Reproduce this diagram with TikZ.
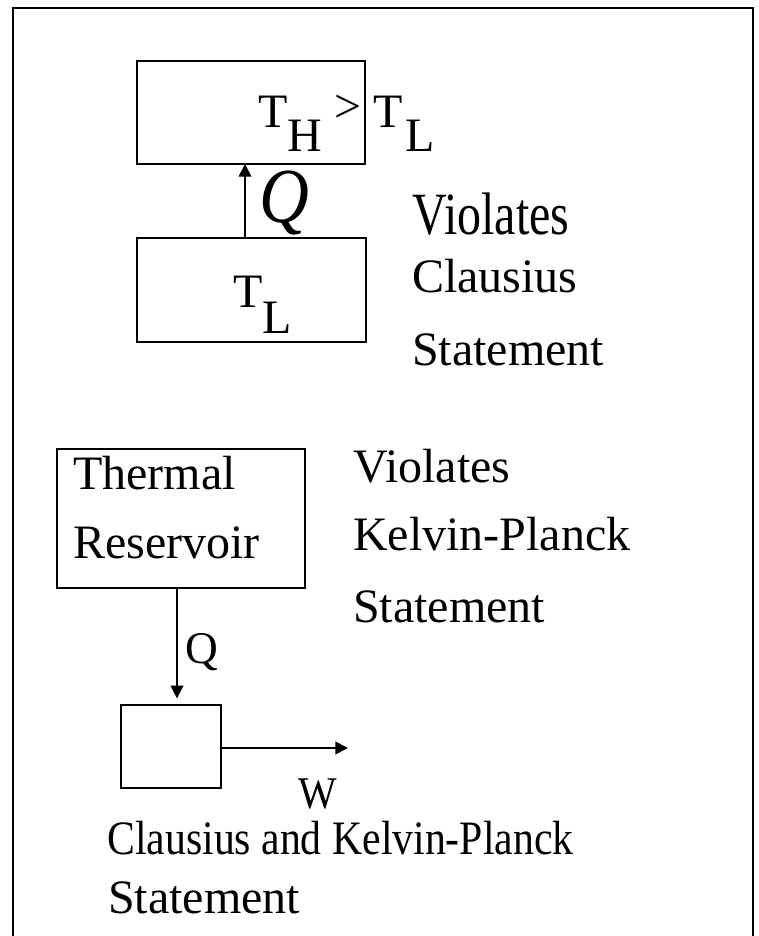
\documentclass[tikz,border=0pt]{standalone}
\usepackage{fontspec}
\setmainfont{Liberation Serif}
\usetikzlibrary{arrows.meta}
\begin{document}
\begin{tikzpicture}[x=0.75pt,y=-0.75pt,
  txt/.style={font=\fontsize{36}{40}\selectfont, inner sep=0pt, anchor=base west},
  lbl/.style={font=\fontsize{34}{38}\selectfont, inner sep=0pt, anchor=base west},
  box/.style={draw, line width=1.5pt, inner sep=0pt, outer sep=0pt},
  arr/.style={line width=1.2pt, -{Triangle[length=9.5pt,width=9.5pt]}},
  frame/.style={line width=2pt}]
\useasboundingbox (0,0) rectangle (758,936);
% outer frame
\coordinate (fbl) at (13,940);
\coordinate (ftl) at (13,8);
\coordinate (ftr) at (753,8);
\coordinate (fbr) at (753,940);
\draw[frame] (fbl) -- (ftl) -- (ftr) -- (fbr);

% Clausius violation diagram
\node[box, minimum width=228*0.75pt, minimum height=103*0.75pt] (hot) at (251,112.5) {};
\node[box, minimum width=229*0.75pt, minimum height=104*0.75pt] (cold) at (251.5,290) {};
\node[txt] (th) at (258,127) {T};
\node[txt] (thsub) at (287,151) {H};
\node[txt] (gt) at (334,122) {>};
\node[txt] (tl) at (373,127) {T};
\node[txt] (tlsub) at (405,151) {L};
\node[txt] (tl2) at (233,307) {T};
\node[txt] (tl2sub) at (262,333) {L};
\coordinate (qx) at (245,0);
\draw[arr] (cold.north -| qx) -- (hot.south -| qx);
\node[font=\fontsize{45}{50}\selectfont\itshape, inner sep=0pt, anchor=base west] (q1) at (259,222) {\scalebox{1.15}[1.3]{Q}};
\node[txt] (v1) at (412,234) {\scalebox{1}[1.25]{Violates}};
\node[txt] (c1) at (412,292) {Clausius};
\node[txt] (s1) at (412,365) {Statement};

% Kelvin-Planck violation diagram
\node[box, minimum width=248*0.75pt, minimum height=139*0.75pt] (res) at (181,518.5) {};
\node[txt] (thermal) at (73,489) {Thermal};
\node[txt] (reservoir) at (73,558) {Reservoir};
\node[box, minimum width=100*0.75pt, minimum height=83*0.75pt] (eng) at (171,746.5) {};
\coordinate (dx) at (177,0);
\draw[arr, shorten >=5pt] (res.south -| dx) -- (eng.north -| dx);
\node[lbl] (q2) at (185,663) {Q};
\coordinate (wend) at (348,748);
\draw[arr] (eng.east |- wend) -- (wend);
\node[lbl] (w) at (298,808) {\scalebox{0.9}[1]{W}};
\node[txt] (v2) at (353,482) {Violates};
\node[txt] (k2) at (353,550) {Kelvin-Planck};
\node[txt] (s2) at (353,622) {Statement};

% bottom caption
\node[txt] (cap1) at (107,854) {\scalebox{0.87}[1]{Clausius and Kelvin-Planck}};
\node[txt] (cap2) at (108,913) {Statement};
\end{tikzpicture}
\end{document}
